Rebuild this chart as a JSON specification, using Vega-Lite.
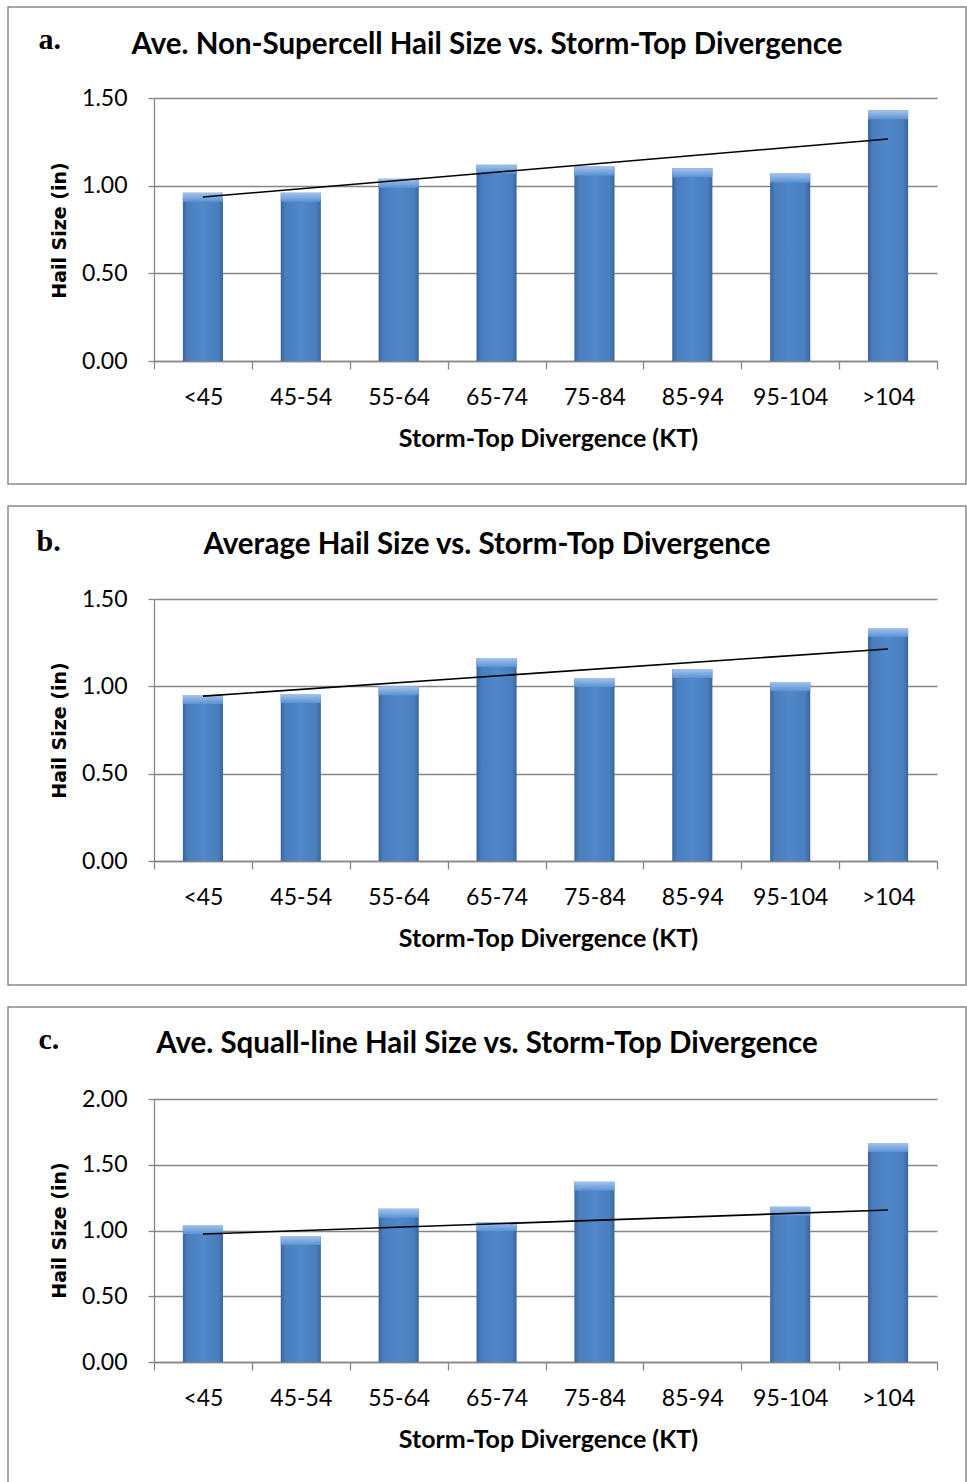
{
  "$schema": "https://vega.github.io/schema/vega-lite/v6.json",
  "padding": {"left": 7, "top": 6, "right": 1, "bottom": 1},
  "spacing": 20,
  "config": {
    "view": {"stroke": "#8a8a8a", "strokeWidth": 1.5},
    "font": "Lato",
    "axis": {
      "labelFont": "Lato",
      "labelFontSize": 23,
      "labelColor": "#000000",
      "domainColor": "#868686",
      "domainWidth": 1.3,
      "tickColor": "#868686",
      "tickWidth": 1.3,
      "gridColor": "#868686",
      "gridWidth": 1.3,
      "gridOpacity": 1
    },
    "title": {"font": "Lato", "fontSize": 29.5, "fontWeight": "bold", "color": "#000000", "anchor": "middle", "baseline": "alphabetic"}
  },
  "datasets": {
    "a": [
      {"range": "<45", "size": 0.96, "trend": 0.935},
      {"range": "45-54", "size": 0.96, "trend": null},
      {"range": "55-64", "size": 1.04, "trend": null},
      {"range": "65-74", "size": 1.12, "trend": null},
      {"range": "75-84", "size": 1.11, "trend": null},
      {"range": "85-94", "size": 1.10, "trend": null},
      {"range": "95-104", "size": 1.07, "trend": null},
      {"range": ">104", "size": 1.43, "trend": 1.266}
    ],
    "b": [
      {"range": "<45", "size": 0.95, "trend": 0.944},
      {"range": "45-54", "size": 0.956, "trend": null},
      {"range": "55-64", "size": 1.00, "trend": null},
      {"range": "65-74", "size": 1.162, "trend": null},
      {"range": "75-84", "size": 1.048, "trend": null},
      {"range": "85-94", "size": 1.099, "trend": null},
      {"range": "95-104", "size": 1.025, "trend": null},
      {"range": ">104", "size": 1.334, "trend": 1.214}
    ],
    "c": [
      {"range": "<45", "size": 1.042, "trend": 0.973},
      {"range": "45-54", "size": 0.958, "trend": null},
      {"range": "55-64", "size": 1.165, "trend": null},
      {"range": "65-74", "size": 1.065, "trend": null},
      {"range": "75-84", "size": 1.371, "trend": null},
      {"range": "85-94", "size": null, "trend": null},
      {"range": "95-104", "size": 1.181, "trend": null},
      {"range": ">104", "size": 1.665, "trend": 1.156}
    ]
  },
  "vconcat": [
    {
      "width": 958,
      "height": 477,
      "data": {"name": "a"},
      "title": {"text": "Ave. Non-Supercell Hail Size vs. Storm-Top Divergence", "offset": -53},
      "resolve": {"axis": {"y": "independent"}},
      "layer": [
        {
          "mark": {"type": "bar", "width": {"band": 0.41}, "color": {"gradient": "linear", "x1": 0, "y1": 0, "x2": 1, "y2": 0, "stops": [{"offset": 0, "color": "#3a6599"}, {"offset": 0.12, "color": "#4a7ebe"}, {"offset": 0.5, "color": "#5088c9"}, {"offset": 0.88, "color": "#4a7ebe"}, {"offset": 1, "color": "#3a6599"}]}},
          "encoding": {
            "x": {"field": "range", "type": "nominal", "sort": null,
              "scale": {"domain": ["<45", "45-54", "55-64", "65-74", "75-84", "85-94", "95-104", ">104"], "range": [146, 929], "paddingInner": 0, "paddingOuter": 0},
              "axis": {"offset": -123, "tickBand": "extent", "tickSize": 8, "labelAngle": 0, "labelBaseline": "alphabetic", "labelPadding": 35, "grid": false,
                "title": "Storm-Top Divergence (KT)", "titleFont": "Lato", "titleFontSize": 25, "titleFontWeight": "bold", "titleColor": "#000000", "titleX": 540, "titleY": 85, "titleAlign": "center", "titleBaseline": "alphabetic"}},
            "y": {"field": "size", "type": "quantitative",
              "scale": {"domain": [0, 1.5], "range": [354, 91], "nice": false},
              "axis": {"offset": -146, "values": [0, 0.5, 1, 1.5], "format": ".2f", "tickSize": 6, "labelPadding": 21, "grid": true,
                "title": "Hail Size (in)", "titleFont": "DejaVu Sans", "titleFontSize": 19, "titleFontWeight": "bold", "titleColor": "#000000", "titleAngle": -90, "titleX": -95, "titleY": 223, "titleAlign": "center", "titleBaseline": "middle"}}
          }
        },
        {
          "mark": {"type": "bar", "width": {"band": 0.41}, "y2Offset": 9, "color": {"gradient": "linear", "x1": 0, "y1": 0, "x2": 0, "y2": 1, "stops": [{"offset": 0, "color": "#a3c4ec"}, {"offset": 1, "color": "#5c92d3"}]}},
          "encoding": {
            "x": {"field": "range", "type": "nominal", "sort": null},
            "y": {"field": "size", "type": "quantitative", "axis": null},
            "y2": {"field": "size"}
          }
        },
        {
          "transform": [{"filter": "isValid(datum.trend)"}],
          "mark": {"type": "line", "color": "#000000", "strokeWidth": 1.6},
          "encoding": {
            "x": {"field": "range", "type": "nominal", "sort": null},
            "y": {"field": "trend", "type": "quantitative",
              "axis": {"orient": "right", "labels": false, "ticks": false, "domain": false, "grid": false,
                "title": "a.", "titleFont": "Liberation Serif", "titleFontSize": 30, "titleFontWeight": "bold", "titleColor": "#000000", "titleAngle": 0, "titleX": -928, "titleY": 41, "titleAlign": "left", "titleBaseline": "alphabetic"}}
          }
        }
      ]
    },
    {
      "width": 958,
      "height": 479,
      "data": {"name": "b"},
      "title": {"text": "Average Hail Size vs. Storm-Top Divergence", "offset": -54},
      "resolve": {"axis": {"y": "independent"}},
      "layer": [
        {
          "mark": {"type": "bar", "width": {"band": 0.41}, "color": {"gradient": "linear", "x1": 0, "y1": 0, "x2": 1, "y2": 0, "stops": [{"offset": 0, "color": "#3a6599"}, {"offset": 0.12, "color": "#4a7ebe"}, {"offset": 0.5, "color": "#5088c9"}, {"offset": 0.88, "color": "#4a7ebe"}, {"offset": 1, "color": "#3a6599"}]}},
          "encoding": {
            "x": {"field": "range", "type": "nominal", "sort": null,
              "scale": {"domain": ["<45", "45-54", "55-64", "65-74", "75-84", "85-94", "95-104", ">104"], "range": [146, 929], "paddingInner": 0, "paddingOuter": 0},
              "axis": {"offset": -124, "tickBand": "extent", "tickSize": 8, "labelAngle": 0, "labelBaseline": "alphabetic", "labelPadding": 35, "grid": false,
                "title": "Storm-Top Divergence (KT)", "titleFont": "Lato", "titleFontSize": 25, "titleFontWeight": "bold", "titleColor": "#000000", "titleX": 540, "titleY": 85, "titleAlign": "center", "titleBaseline": "alphabetic"}},
            "y": {"field": "size", "type": "quantitative",
              "scale": {"domain": [0, 1.5], "range": [355, 93], "nice": false},
              "axis": {"offset": -146, "values": [0, 0.5, 1, 1.5], "format": ".2f", "tickSize": 6, "labelPadding": 21, "grid": true,
                "title": "Hail Size (in)", "titleFont": "DejaVu Sans", "titleFontSize": 19, "titleFontWeight": "bold", "titleColor": "#000000", "titleAngle": -90, "titleX": -95, "titleY": 224, "titleAlign": "center", "titleBaseline": "middle"}}
          }
        },
        {
          "mark": {"type": "bar", "width": {"band": 0.41}, "y2Offset": 9, "color": {"gradient": "linear", "x1": 0, "y1": 0, "x2": 0, "y2": 1, "stops": [{"offset": 0, "color": "#a3c4ec"}, {"offset": 1, "color": "#5c92d3"}]}},
          "encoding": {
            "x": {"field": "range", "type": "nominal", "sort": null},
            "y": {"field": "size", "type": "quantitative", "axis": null},
            "y2": {"field": "size"}
          }
        },
        {
          "transform": [{"filter": "isValid(datum.trend)"}],
          "mark": {"type": "line", "color": "#000000", "strokeWidth": 1.6},
          "encoding": {
            "x": {"field": "range", "type": "nominal", "sort": null},
            "y": {"field": "trend", "type": "quantitative",
              "axis": {"orient": "right", "labels": false, "ticks": false, "domain": false, "grid": false,
                "title": "b.", "titleFont": "Liberation Serif", "titleFontSize": 30, "titleFontWeight": "bold", "titleColor": "#000000", "titleAngle": 0, "titleX": -930, "titleY": 44, "titleAlign": "left", "titleBaseline": "alphabetic"}}
          }
        }
      ]
    },
    {
      "width": 958,
      "height": 477,
      "data": {"name": "c"},
      "title": {"text": "Ave. Squall-line Hail Size vs. Storm-Top Divergence", "offset": -52},
      "resolve": {"axis": {"y": "independent"}},
      "layer": [
        {
          "mark": {"type": "bar", "width": {"band": 0.41}, "color": {"gradient": "linear", "x1": 0, "y1": 0, "x2": 1, "y2": 0, "stops": [{"offset": 0, "color": "#3a6599"}, {"offset": 0.12, "color": "#4a7ebe"}, {"offset": 0.5, "color": "#5088c9"}, {"offset": 0.88, "color": "#4a7ebe"}, {"offset": 1, "color": "#3a6599"}]}},
          "encoding": {
            "x": {"field": "range", "type": "nominal", "sort": null,
              "scale": {"domain": ["<45", "45-54", "55-64", "65-74", "75-84", "85-94", "95-104", ">104"], "range": [146, 929], "paddingInner": 0, "paddingOuter": 0},
              "axis": {"offset": -122, "tickBand": "extent", "tickSize": 8, "labelAngle": 0, "labelBaseline": "alphabetic", "labelPadding": 35, "grid": false,
                "title": "Storm-Top Divergence (KT)", "titleFont": "Lato", "titleFontSize": 25, "titleFontWeight": "bold", "titleColor": "#000000", "titleX": 540, "titleY": 85, "titleAlign": "center", "titleBaseline": "alphabetic"}},
            "y": {"field": "size", "type": "quantitative",
              "scale": {"domain": [0, 2], "range": [355, 92], "nice": false},
              "axis": {"offset": -146, "values": [0, 0.5, 1, 1.5, 2], "format": ".2f", "tickSize": 6, "labelPadding": 21, "grid": true,
                "title": "Hail Size (in)", "titleFont": "DejaVu Sans", "titleFontSize": 19, "titleFontWeight": "bold", "titleColor": "#000000", "titleAngle": -90, "titleX": -95, "titleY": 223, "titleAlign": "center", "titleBaseline": "middle"}}
          }
        },
        {
          "mark": {"type": "bar", "width": {"band": 0.41}, "y2Offset": 9, "color": {"gradient": "linear", "x1": 0, "y1": 0, "x2": 0, "y2": 1, "stops": [{"offset": 0, "color": "#a3c4ec"}, {"offset": 1, "color": "#5c92d3"}]}},
          "encoding": {
            "x": {"field": "range", "type": "nominal", "sort": null},
            "y": {"field": "size", "type": "quantitative", "axis": null},
            "y2": {"field": "size"}
          }
        },
        {
          "transform": [{"filter": "isValid(datum.trend)"}],
          "mark": {"type": "line", "color": "#000000", "strokeWidth": 1.6},
          "encoding": {
            "x": {"field": "range", "type": "nominal", "sort": null},
            "y": {"field": "trend", "type": "quantitative",
              "axis": {"orient": "right", "labels": false, "ticks": false, "domain": false, "grid": false,
                "title": "c.", "titleFont": "Liberation Serif", "titleFontSize": 30, "titleFontWeight": "bold", "titleColor": "#000000", "titleAngle": 0, "titleX": -928, "titleY": 41, "titleAlign": "left", "titleBaseline": "alphabetic"}}
          }
        }
      ]
    }
  ]
}
